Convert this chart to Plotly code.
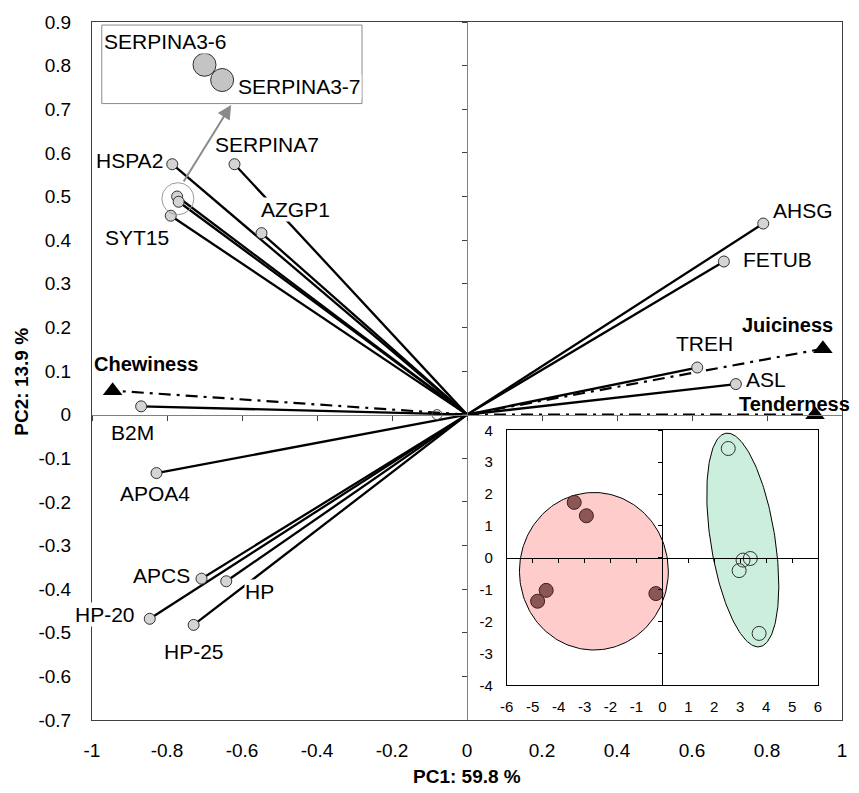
import numpy as np
import plotly.graph_objects as go

# ---------------- data ----------------
proteins = ["HSPA2", "SERPINA7", "AZGP1", "SERPINA3-6", "SERPINA3-7", "SYT15",
            "AHSG", "FETUB", "TREH", "ASL", "B2M", "APOA4", "APCS", "HP", "HP-20", "HP-25", ""]
pc1 = [-0.786, -0.620, -0.548, -0.773, -0.769, -0.790,
       0.790, 0.685, 0.614, 0.717, -0.869, -0.828, -0.708, -0.642, -0.846, -0.729, -0.080]
pc2 = [0.574, 0.574, 0.416, 0.500, 0.488, 0.456,
       0.438, 0.351, 0.108, 0.070, 0.019, -0.134, -0.376, -0.382, -0.468, -0.482, 0.000]

attributes = ["Chewiness", "Juiciness", "Tenderness"]
attr_pc1 = [-0.945, 0.949, 0.928]
attr_pc2 = [0.055, 0.151, 0.000]

# inset score plot
grpA_x = [-3.40, -2.93, -4.48, -4.81, -0.25]
grpA_y = [1.74, 1.32, -1.02, -1.36, -1.12]
grpB_x = [2.54, 3.11, 3.39, 2.96, 3.73]
grpB_y = [3.43, -0.07, -0.02, -0.40, -2.37]

# ellipse parameters: center, vector of semi-major axis, vector of semi-minor axis
ellA = dict(cx=-2.64, cy=-0.42, ax=(2.87, 0.0), bx=(0.0, 2.47))
ellB = dict(cx=3.10, cy=0.56, ax=(-0.651, 3.349), bx=(1.226, 0.155))

main_xticks = [-1, -0.8, -0.6, -0.4, -0.2, 0, 0.2, 0.4, 0.6, 0.8, 1]
main_yticks = [-0.7, -0.6, -0.5, -0.4, -0.3, -0.2, -0.1, 0, 0.1, 0.2, 0.3, 0.4, 0.5, 0.6, 0.7, 0.8, 0.9]
inset_xticks = list(range(-6, 7))
inset_yticks = list(range(-4, 5))

# zoom-box (enlarged view of the SERPINA3 cluster)
zoom_box = dict(x0=-0.974, x1=-0.280, y0=0.713, y1=0.893)
zoom_pts_x = [-0.700, -0.653]
zoom_pts_y = [0.802, 0.767]
zoom_labels = ["SERPINA3-6", "SERPINA3-7"]
zoom_label_pos = [(-0.804, 0.856), (-0.447, 0.752)]
cluster_center = (-0.771, 0.495)
arrow_tail = (-0.758, 0.531)
arrow_head = (-0.629, 0.710)

# label pixel offsets (xshift, yshift) per protein / attribute
label_off = {
    "HSPA2": (-43, 4), "SERPINA7": (32, 20), "AZGP1": (34, 24), "SYT15": (-34, -22),
    "AHSG": (40, 13), "FETUB": (54, 2), "TREH": (7, 24), "ASL": (30, 5),
    "B2M": (-9, -26), "APOA4": (-2, -20), "APCS": (-40, 3), "HP": (33, -10),
    "HP-20": (-45, 4), "HP-25": (0, -27),
    "Chewiness": (33, 27), "Juiciness": (-35, 24), "Tenderness": (-21, 11),
}

FONT = "Liberation Sans, Arial, sans-serif"


def fmt(v):
    s = ("%g" % round(v, 2))
    return s.replace("\u2212", "-")


fig = go.Figure()

# protein loading lines
lx, ly = [], []
for x, y in zip(pc1, pc2):
    lx += [0, x, None]
    ly += [0, y, None]
fig.add_trace(go.Scatter(x=lx, y=ly, mode="lines", line=dict(color="black", width=2.3),
                         hoverinfo="skip", showlegend=False))

# attribute lines (dash-dot)
ax_, ay_ = [], []
for x, y in zip(attr_pc1, attr_pc2):
    ax_ += [0, x, None]
    ay_ += [0, y, None]
fig.add_trace(go.Scatter(x=ax_, y=ay_, mode="lines",
                         line=dict(color="black", width=2.2, dash="12px,6px,3px,6px"),
                         hoverinfo="skip", showlegend=False))

# protein markers
named = [i for i, p in enumerate(proteins) if p != ""]
fig.add_trace(go.Scatter(x=[pc1[i] for i in named], y=[pc2[i] for i in named], mode="markers",
                         marker=dict(size=11, color="#d4d4d4", line=dict(color="#303030", width=1)),
                         text=[proteins[i] for i in named], showlegend=False))
unnamed = [i for i, p in enumerate(proteins) if p == ""]
fig.add_trace(go.Scatter(x=[pc1[i] for i in unnamed], y=[pc2[i] for i in unnamed], mode="markers",
                         marker=dict(size=10, symbol="circle-open", color="#404040", line=dict(width=1)),
                         showlegend=False))

# cluster highlight circle
fig.add_trace(go.Scatter(x=[cluster_center[0]], y=[cluster_center[1]], mode="markers",
                         marker=dict(size=32, symbol="circle-open", color="#9a9a9a", line=dict(width=1)),
                         hoverinfo="skip", showlegend=False))

# attribute triangles
fig.add_trace(go.Scatter(x=attr_pc1, y=attr_pc2, mode="markers",
                         marker=dict(size=17, symbol="triangle-up", color="black"),
                         text=attributes, showlegend=False))

# zoom box circles
fig.add_trace(go.Scatter(x=zoom_pts_x, y=zoom_pts_y, mode="markers",
                         marker=dict(size=23, color="#c4c4c4", line=dict(color="#303030", width=1)),
                         hoverinfo="skip", showlegend=False))

# dummy trace for zero-line overlay axes
fig.add_trace(go.Scatter(x=[None], y=[None], xaxis="x3", yaxis="y3", showlegend=False))

# ---------------- inset ----------------
t = np.linspace(0, 2 * np.pi, 200)
for ell, col in [(ellA, "#ffcccc"), (ellB, "#cceedd")]:
    ex = ell["cx"] + np.cos(t) * ell["ax"][0] + np.sin(t) * ell["bx"][0]
    ey = ell["cy"] + np.cos(t) * ell["ax"][1] + np.sin(t) * ell["bx"][1]
    fig.add_trace(go.Scatter(x=ex, y=ey, mode="lines", fill="toself", fillcolor=col,
                             line=dict(color="black", width=1), xaxis="x2", yaxis="y2",
                             hoverinfo="skip", showlegend=False))
fig.add_trace(go.Scatter(x=grpA_x, y=grpA_y, mode="markers", xaxis="x2", yaxis="y2",
                         marker=dict(size=14, color="#8c5656", line=dict(color="#3a2020", width=1)),
                         showlegend=False))
fig.add_trace(go.Scatter(x=grpB_x, y=grpB_y, mode="markers", xaxis="x2", yaxis="y2",
                         marker=dict(size=14, symbol="circle-open", color="#303030", line=dict(width=1)),
                         showlegend=False))
fig.add_trace(go.Scatter(x=[None], y=[None], xaxis="x4", yaxis="y4", showlegend=False))

# ---------------- annotations ----------------
ann = []
for i in named:
    p = proteins[i]
    if p.startswith("SERPINA3"):
        continue
    dx, dy = label_off[p]
    ann.append(dict(x=pc1[i], y=pc2[i], text=p, showarrow=False, xshift=dx, yshift=dy,
                    font=dict(size=21, color="black", family=FONT), bgcolor="white", borderpad=0))
for a, x, y in zip(attributes, attr_pc1, attr_pc2):
    dx, dy = label_off[a]
    ann.append(dict(x=x, y=y, text="<b>%s</b>" % a, showarrow=False, xshift=dx, yshift=dy,
                    font=dict(size=20, color="black", family=FONT)))
for lab, (x, y) in zip(zoom_labels, zoom_label_pos):
    ann.append(dict(x=x, y=y, text=lab, showarrow=False,
                    font=dict(size=21, color="black", family=FONT), bgcolor="white", borderpad=0))
ann.append(dict(x=arrow_head[0], y=arrow_head[1], ax=arrow_tail[0], ay=arrow_tail[1],
                axref="x", ayref="y", xref="x", yref="y", text="", showarrow=True,
                arrowhead=2, arrowsize=1.4, arrowwidth=2, arrowcolor="#8a8a8a"))
ann.append(dict(x=0.5, y=-0.081, xref="paper", yref="paper", text="<b>PC1: 59.8 %</b>",
                xanchor="center", yanchor="middle",
                showarrow=False, font=dict(size=19, color="black", family=FONT)))
ann.append(dict(x=-0.094, y=0.484, xref="paper", yref="paper", text="<b>PC2: 13.9 %</b>",
                xanchor="center", yanchor="middle",
                textangle=-90, showarrow=False, font=dict(size=19, color="black", family=FONT)))

shapes = [dict(type="rect", xref="x", yref="y", x0=zoom_box["x0"], x1=zoom_box["x1"],
               y0=zoom_box["y0"], y1=zoom_box["y1"], line=dict(color="#8a8a8a", width=1),
               layer="below")]

inset_dom_x = [0.553, 0.968]
inset_dom_y = [0.0496, 0.415]

fig.update_layout(
    width=859, height=793,
    margin=dict(l=92, r=13, t=14, b=73),
    paper_bgcolor="white", plot_bgcolor="white",
    font=dict(family=FONT, color="black"),
    annotations=ann, shapes=shapes,
    xaxis=dict(domain=[0, 1], range=[-1, 1], anchor="y", tickvals=main_xticks,
               ticktext=[fmt(v) for v in main_xticks], ticks="outside", ticklen=13,
               tickcolor="rgba(0,0,0,0)", showgrid=False, zeroline=False, showline=True,
               mirror=True, linecolor="#404040", linewidth=1, tickfont=dict(size=19)),
    yaxis=dict(domain=[0, 1], range=[-0.7, 0.9], anchor="x", tickvals=main_yticks,
               ticktext=[fmt(v) for v in main_yticks], ticks="outside", ticklen=16,
               tickcolor="rgba(0,0,0,0)", showgrid=False, zeroline=False, showline=True,
               mirror=True, linecolor="#404040", linewidth=1, tickfont=dict(size=19)),
    xaxis3=dict(overlaying="x", anchor="free", position=0.4375, range=[-1, 1],
                tickvals=main_xticks, ticks="outside", ticklen=5, tickcolor="#404040",
                showticklabels=False, showgrid=False, zeroline=False, showline=True,
                linecolor="#808080", linewidth=1),
    yaxis3=dict(overlaying="y", anchor="free", position=0.5, range=[-0.7, 0.9],
                tickvals=main_yticks, ticks="outside", ticklen=5, tickcolor="#404040",
                showticklabels=False, showgrid=False, zeroline=False, showline=True,
                linecolor="#808080", linewidth=1),
    xaxis2=dict(domain=inset_dom_x, range=[-6, 6], anchor="y2", tickvals=inset_xticks,
                ticktext=[fmt(v) for v in inset_xticks], ticks="outside", ticklen=8,
                tickcolor="rgba(0,0,0,0)", showgrid=False, zeroline=False, showline=True,
                mirror=True, linecolor="black", linewidth=1, tickfont=dict(size=15)),
    yaxis2=dict(domain=inset_dom_y, range=[-4, 4], anchor="x2", tickvals=inset_yticks,
                ticktext=[fmt(v) for v in inset_yticks], ticks="outside", ticklen=10,
                tickcolor="rgba(0,0,0,0)", showgrid=False, zeroline=False, showline=True,
                mirror=True, linecolor="black", linewidth=1, tickfont=dict(size=15)),
    xaxis4=dict(overlaying="x2", anchor="free", position=inset_dom_y[0] + 0.5 * (inset_dom_y[1] - inset_dom_y[0]),
                range=[-6, 6], tickvals=inset_xticks, ticks="outside", ticklen=4,
                tickcolor="black", showticklabels=False, showgrid=False, zeroline=False,
                showline=True, linecolor="black", linewidth=1),
    yaxis4=dict(overlaying="y2", anchor="free", position=inset_dom_x[0] + 0.5 * (inset_dom_x[1] - inset_dom_x[0]),
                range=[-4, 4], tickvals=inset_yticks, ticks="outside", ticklen=4,
                tickcolor="black", showticklabels=False, showgrid=False, zeroline=False,
                showline=True, linecolor="black", linewidth=1),
)

fig.write_html("out.html")
